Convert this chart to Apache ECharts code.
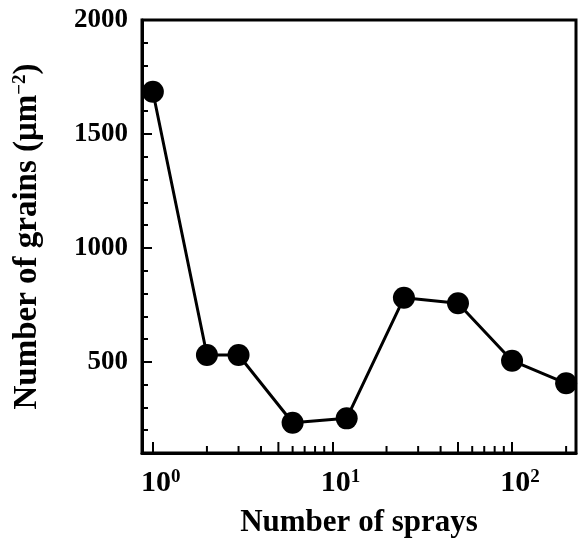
<!DOCTYPE html>
<html>
<head>
<meta charset="utf-8">
<script src="https://cdn.jsdelivr.net/npm/echarts@6/dist/echarts.min.js"></script>
<style>
  html, body { margin: 0; padding: 0; background: #fff; }
  #chart { width: 579px; height: 543px; }
</style>
</head>
<body>
<div id="chart"></div>
<script>
// number of sprays vs grain density
var sprays = [1, 2, 3, 6, 12, 25, 50, 100, 200];
var grains = [1685, 530, 530, 233, 252, 781, 757, 505, 406];

// axis limits
var X_MIN = 0.87, X_MAX = 227;
var Y_MIN = 100, Y_MAX = 2000;

// extra log ticks (tecplot style), 5 and 50 are drawn longer
var xMinorTicks = [2, 3, 4, 5, 6, 7, 8, 9, 20, 30, 40, 50, 60, 70, 80, 90, 200];
var xMidTicks = [5, 50];

var FONT = '"Liberation Serif", "Times New Roman", serif';

var chart = echarts.init(document.getElementById('chart'));

var option = {
  animation: false,
  grid: {
    left: 142, right: 3, top: 20, bottom: 90,
    show: true, borderColor: '#000', borderWidth: 3
  },
  xAxis: {
    type: 'log',
    logBase: 10,
    min: X_MIN,
    max: X_MAX,
    name: 'Number of sprays',
    nameLocation: 'middle',
    nameGap: 54,
    nameTextStyle: { fontFamily: FONT, fontWeight: 'bold', fontSize: 31, color: '#000' },
    axisLine: { lineStyle: { color: '#000', width: 3 } },
    axisTick: { inside: true, length: 11, lineStyle: { color: '#000', width: 2 } },
    splitLine: { show: false },
    axisLabel: {
      margin: 15,
      formatter: function (v) {
        var e = Math.round(Math.log10(v));
        if (Math.abs(Math.pow(10, e) - v) > 1e-6 * v) return '';
        return '{b|10}{s|' + e + '}';
      },
      rich: {
        b: { fontFamily: FONT, fontWeight: 'bold', fontSize: 30, color: '#000', padding: [0, 0, 0, 16] },
        s: { fontFamily: FONT, fontWeight: 'bold', fontSize: 19, color: '#000', verticalAlign: 'top' }
      }
    }
  },
  yAxis: [
    {
      type: 'value',
      min: Y_MIN,
      max: Y_MAX,
      splitNumber: 4,
      name: 'Number of grains (μm{s|−2})',
      nameLocation: 'middle',
      nameGap: 98,
      nameTextStyle: {
        fontFamily: FONT, fontWeight: 'bold', fontSize: 33, color: '#000',
        rich: {
          s: { fontFamily: FONT, fontWeight: 'bold', fontSize: 19, color: '#000', verticalAlign: 'top' }
        }
      },
      axisLine: { show: true, lineStyle: { color: '#000', width: 3 } },
      axisTick: { inside: true, length: 10, lineStyle: { color: '#000', width: 2 } },
      splitLine: { show: false },
      axisLabel: {
        showMinLabel: false,
        margin: 14,
        formatter: function (v) { return String(v); },
        fontFamily: FONT, fontWeight: 'bold', fontSize: 27, color: '#000'
      }
    },
    {
      // minor ticks every 100
      type: 'value',
      position: 'left',
      offset: 0,
      min: Y_MIN,
      max: Y_MAX,
      interval: 100,
      axisLine: { show: false },
      axisTick: { inside: true, length: 6, lineStyle: { color: '#000', width: 2 } },
      axisLabel: { show: false },
      splitLine: { show: false }
    }
  ],
  series: [
    {
      // log minor ticks on the bottom axis
      type: 'custom',
      coordinateSystem: 'cartesian2d',
      xAxisIndex: 0,
      yAxisIndex: 0,
      silent: true,
      clip: false,
      z: 1,
      encode: { x: 0, y: 1 },
      data: xMinorTicks.map(function (v) { return [v, Y_MIN]; }),
      renderItem: function (params, api) {
        var v = api.value(0);
        var p = api.coord([v, Y_MIN]);
        var len = xMidTicks.indexOf(v) >= 0 ? 11 : 7;
        return {
          type: 'line',
          shape: { x1: p[0], y1: p[1], x2: p[0], y2: p[1] - len },
          style: { stroke: '#000', lineWidth: 2 }
        };
      }
    },
    {
      type: 'line',
      data: sprays.map(function (x, i) { return [x, grains[i]]; }),
      symbol: 'circle',
      symbolSize: 22,
      z: 5,
      lineStyle: { color: '#000', width: 3 },
      itemStyle: { color: '#000' }
    }
  ]
};

chart.setOption(option);
</script>
</body>
</html>
